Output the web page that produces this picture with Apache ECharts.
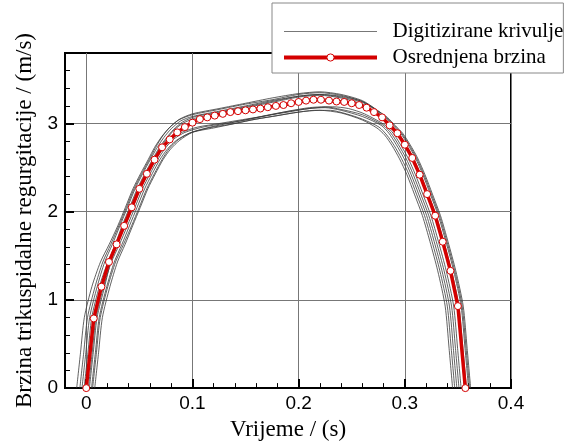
<!DOCTYPE html>
<html>
<head>
<meta charset="utf-8">
<script src="https://cdn.jsdelivr.net/npm/echarts@6/dist/echarts.min.js"></script>
<style>html,body{margin:0;padding:0;background:#fff;}#c{width:567px;height:446px;}</style>
</head>
<body>
<div id="c"></div>
<script>
// ---- data ----
const xMajor = [0, 0.1, 0.2, 0.3, 0.4];
const yMajor = [0, 1, 2, 3];

const meanT = [0,0.0071,0.0143,0.0214,0.0286,0.0357,0.0429,0.05,0.0571,0.0643,0.0714,0.0786,0.0857,0.0929,0.1,0.107,0.114,0.121,0.1286,0.1357,0.1429,0.15,0.157,0.164,0.171,0.1786,0.1857,0.1929,0.2,0.207,0.214,0.221,0.2286,0.2357,0.2429,0.25,0.257,0.264,0.271,0.2786,0.2857,0.293,0.3,0.307,0.314,0.321,0.3286,0.3357,0.343,0.35,0.357];
const meanV = [0,0.79,1.15,1.43,1.63,1.84,2.05,2.26,2.43,2.59,2.73,2.82,2.90,2.96,3.01,3.05,3.07,3.09,3.11,3.13,3.14,3.15,3.16,3.17,3.185,3.20,3.21,3.23,3.245,3.26,3.27,3.27,3.26,3.25,3.245,3.23,3.21,3.18,3.13,3.07,2.98,2.89,2.76,2.61,2.42,2.2,1.955,1.66,1.33,0.93,0];

const curveU1 = [[-0.009,0],[-0.0054,0.4],[-0.0018,0.8],[0.0053,1.15],[0.0134,1.43],[0.0216,1.63],[0.0297,1.84],[0.0369,2.05],[0.044,2.26],[0.0511,2.43],[0.0583,2.59],[0.0644,2.73],[0.071,2.85],[0.078,2.95],[0.087,3.04],[0.1,3.1],[0.125,3.16],[0.15,3.22],[0.175,3.27],[0.2,3.33],[0.22,3.35],[0.24,3.32],[0.26,3.25],[0.272,3.16],[0.2796,3.07],[0.2867,2.98],[0.294,2.89],[0.301,2.76],[0.308,2.61],[0.315,2.42],[0.322,2.2],[0.3296,1.955],[0.3367,1.66],[0.344,1.33],[0.351,0.93],[0.3547,0.45],[0.358,0]];
const curveU2 = [[-0.004,0],[-0.0004,0.4],[0.0032,0.8],[0.0103,1.15],[0.0174,1.43],[0.0246,1.63],[0.0317,1.84],[0.0389,2.05],[0.046,2.26],[0.0531,2.43],[0.0603,2.59],[0.0664,2.72],[0.073,2.84],[0.08,2.94],[0.089,3.03],[0.1,3.08],[0.125,3.14],[0.15,3.2],[0.175,3.26],[0.2,3.31],[0.22,3.33],[0.24,3.31],[0.26,3.25],[0.274,3.15],[0.2826,3.07],[0.2897,2.98],[0.297,2.89],[0.304,2.76],[0.311,2.61],[0.318,2.42],[0.325,2.2],[0.3326,1.955],[0.3397,1.66],[0.347,1.33],[0.354,0.93],[0.3577,0.45],[0.361,0]];
const curveU3 = [[0.0,0],[0.0036,0.4],[0.0072,0.8],[0.0143,1.15],[0.0207,1.43],[0.0273,1.63],[0.0337,1.84],[0.0409,2.05],[0.048,2.26],[0.0551,2.43],[0.0623,2.59],[0.0684,2.72],[0.075,2.83],[0.082,2.93],[0.091,3.02],[0.103,3.08],[0.125,3.13],[0.15,3.19],[0.175,3.25],[0.2,3.31],[0.22,3.33],[0.24,3.3],[0.26,3.24],[0.275,3.14],[0.2836,3.07],[0.2907,2.98],[0.298,2.89],[0.305,2.76],[0.312,2.61],[0.319,2.42],[0.326,2.2],[0.3336,1.955],[0.3407,1.66],[0.348,1.33],[0.355,0.93],[0.3587,0.45],[0.362,0]];
const curveU4 = [[0.003,0],[0.0066,0.4],[0.0102,0.8],[0.0173,1.15],[0.023,1.43],[0.0289,1.63],[0.0347,1.84],[0.0419,2.05],[0.049,2.26],[0.0561,2.43],[0.0633,2.59],[0.0694,2.72],[0.076,2.83],[0.083,2.93],[0.092,3.01],[0.105,3.07],[0.125,3.12],[0.15,3.18],[0.175,3.24],[0.2,3.3],[0.22,3.32],[0.24,3.29],[0.26,3.22],[0.271,3.14],[0.2786,3.07],[0.2857,2.98],[0.293,2.89],[0.3,2.76],[0.307,2.61],[0.314,2.42],[0.321,2.2],[0.3286,1.955],[0.3357,1.66],[0.343,1.33],[0.35,0.93],[0.3537,0.45],[0.356,0]];
const curveU5 = [[-0.006,0],[-0.0024,0.4],[0.0012,0.8],[0.0083,1.15],[0.0156,1.43],[0.0231,1.63],[0.0307,1.84],[0.0379,2.05],[0.045,2.26],[0.0521,2.43],[0.0593,2.59],[0.0654,2.73],[0.072,2.86],[0.079,2.96],[0.088,3.05],[0.1,3.11],[0.125,3.17],[0.15,3.23],[0.175,3.29],[0.2,3.34],[0.22,3.36],[0.24,3.33],[0.26,3.26],[0.273,3.16],[0.2816,3.07],[0.2887,2.98],[0.296,2.89],[0.303,2.76],[0.31,2.61],[0.317,2.42],[0.324,2.2],[0.3316,1.955],[0.3387,1.66],[0.346,1.33],[0.353,0.93],[0.3567,0.45],[0.36,0]];
const curveL1 = [[0.008,0],[0.0116,0.4],[0.0152,0.8],[0.0223,1.15],[0.0294,1.43],[0.0366,1.63],[0.0437,1.84],[0.0509,2.05],[0.058,2.26],[0.0651,2.43],[0.0723,2.59],[0.0794,2.71],[0.088,2.81],[0.1,2.9],[0.12,2.95],[0.14,3.0],[0.16,3.05],[0.18,3.09],[0.2,3.13],[0.22,3.15],[0.24,3.12],[0.26,3.04],[0.2737,2.95],[0.281,2.87],[0.288,2.75],[0.295,2.6],[0.302,2.42],[0.309,2.2],[0.3166,1.955],[0.3237,1.66],[0.331,1.33],[0.338,0.93],[0.3417,0.45],[0.345,0]];
const curveL2 = [[0.002,0],[0.0056,0.4],[0.0092,0.8],[0.0163,1.15],[0.0237,1.43],[0.0313,1.63],[0.0387,1.84],[0.0459,2.05],[0.053,2.26],[0.0601,2.43],[0.0673,2.59],[0.0744,2.72],[0.082,2.82],[0.093,2.9],[0.11,2.96],[0.13,3.0],[0.15,3.04],[0.17,3.09],[0.19,3.13],[0.21,3.17],[0.225,3.18],[0.24,3.15],[0.26,3.08],[0.2777,2.98],[0.285,2.89],[0.292,2.76],[0.299,2.61],[0.306,2.42],[0.313,2.2],[0.3206,1.955],[0.3277,1.66],[0.335,1.33],[0.342,0.93],[0.3457,0.45],[0.349,0]];
const curveL3 = [[-0.002,0],[0.0016,0.4],[0.0052,0.8],[0.0123,1.15],[0.0204,1.43],[0.0286,1.63],[0.0367,1.84],[0.0439,2.05],[0.051,2.26],[0.0581,2.43],[0.0653,2.59],[0.0724,2.72],[0.08,2.82],[0.09,2.9],[0.105,2.96],[0.125,3.0],[0.15,3.05],[0.17,3.09],[0.19,3.14],[0.21,3.18],[0.225,3.19],[0.24,3.16],[0.26,3.1],[0.2797,2.98],[0.287,2.89],[0.294,2.76],[0.301,2.61],[0.308,2.42],[0.315,2.2],[0.3226,1.955],[0.3297,1.66],[0.337,1.33],[0.344,0.93],[0.3477,0.45],[0.351,0]];
const curveL4 = [[0.005,0],[0.0086,0.4],[0.0122,0.8],[0.0193,1.15],[0.0264,1.43],[0.0336,1.63],[0.0407,1.84],[0.0479,2.05],[0.055,2.26],[0.0621,2.43],[0.0693,2.59],[0.0764,2.71],[0.085,2.81],[0.097,2.89],[0.115,2.95],[0.135,2.99],[0.155,3.04],[0.175,3.08],[0.195,3.12],[0.215,3.15],[0.23,3.15],[0.245,3.11],[0.26,3.05],[0.2757,2.96],[0.283,2.87],[0.29,2.75],[0.297,2.6],[0.304,2.42],[0.311,2.2],[0.3186,1.955],[0.3257,1.66],[0.333,1.33],[0.34,0.93],[0.3437,0.45],[0.347,0]];
const curveL5 = [[0.006,0],[0.0096,0.4],[0.0132,0.8],[0.0203,1.15],[0.0276,1.43],[0.0351,1.63],[0.0427,1.84],[0.0499,2.05],[0.057,2.26],[0.0641,2.43],[0.0713,2.59],[0.0784,2.72],[0.087,2.82],[0.099,2.9],[0.117,2.96],[0.137,3.01],[0.157,3.06],[0.177,3.11],[0.197,3.15],[0.217,3.18],[0.232,3.19],[0.247,3.17],[0.262,3.11],[0.2817,2.98],[0.289,2.89],[0.296,2.76],[0.303,2.61],[0.31,2.42],[0.317,2.2],[0.3246,1.955],[0.3317,1.66],[0.339,1.33],[0.346,0.93],[0.3497,0.45],[0.353,0]];

const grayCurves = [curveU1, curveU2, curveU3, curveU4, curveU5, curveL1, curveL2, curveL3, curveL4, curveL5];
const nameGray = 'Digitizirane krivulje';
const nameMean = 'Osrednjena brzina';

// ---- chart ----
const chart = echarts.init(document.getElementById('c'), null, {renderer: 'canvas'});
const serif = 'Liberation Serif, Times New Roman, serif';
const sans = 'Liberation Sans, Arial, sans-serif';
const red = '#d40000';

const series = grayCurves.map(c => ({
  name: nameGray, type: 'line', data: c, showSymbol: false, symbol: 'none',
  smooth: 0.25, lineStyle: {color: '#3a3a3a', width: 0.8}, itemStyle: {color: '#3a3a3a'},
  z: 2, silent: true
}));
series.push({
  name: nameMean, type: 'line', data: meanT.map((t, i) => [t, meanV[i]]),
  symbol: 'circle', symbolSize: 7, showSymbol: true,
  lineStyle: {color: red, width: 3.5},
  itemStyle: {color: '#ffffff', borderColor: red, borderWidth: 1},
  z: 5, silent: true
});

chart.setOption({
  animation: false,
  backgroundColor: '#fff',
  grid: {left: 65, right: 56, top: 53, bottom: 48, show: true, borderColor: '#000', borderWidth: 2, backgroundColor: 'transparent'},
  legend: {
    data: [
      {name: nameGray, itemStyle: {color: 'rgba(0,0,0,0)', borderWidth: 0, opacity: 0}, lineStyle: {color: '#777', width: 1}},
      {name: nameMean, itemStyle: {color: '#fff', borderColor: red, borderWidth: 1}, lineStyle: {color: red, width: 4}}
    ],
    left: 272, top: 3, orient: 'vertical',
    backgroundColor: '#fff', borderColor: '#888', borderWidth: 1,
    padding: [18, 0, 5, 10], itemGap: 5, itemWidth: 93, itemHeight: 9,
    formatter: n => '  ' + n,
    textStyle: {fontFamily: serif, fontSize: 21, color: '#000'},
    z: 10
  },
  xAxis: [
    {type: 'value', min: -0.02, max: 0.4, interval: 0.02, position: 'bottom',
     axisLine: {show: true, onZero: false, lineStyle: {color: '#000', width: 2}},
     axisTick: {inside: true, length: 5, lineStyle: {color: '#000', width: 1}},
     axisLabel: {show: false}, splitLine: {show: false}},
    {type: 'value', min: -0.02, max: 0.4, position: 'bottom',
     axisLine: {show: false, onZero: false},
     axisTick: {inside: true, length: 9, customValues: xMajor, lineStyle: {color: '#000', width: 2}},
     axisLabel: {customValues: xMajor, fontFamily: sans, fontSize: 19, color: '#000', margin: 6},
     splitLine: {show: true, customValues: xMajor, lineStyle: {color: '#777', width: 1}},
     name: 'Vrijeme / (s)', nameLocation: 'middle', nameGap: 22,
     nameTextStyle: {fontFamily: serif, fontSize: 23, color: '#000'}}
  ],
  yAxis: [
    {type: 'value', min: 0, max: 3.8, interval: 0.2, position: 'left',
     axisLine: {show: true, onZero: false, lineStyle: {color: '#000', width: 2}},
     axisTick: {inside: true, length: 5, lineStyle: {color: '#000', width: 1}},
     axisLabel: {show: false}, splitLine: {show: false}},
    {type: 'value', min: 0, max: 3.8, position: 'left',
     axisLine: {show: false, onZero: false},
     axisTick: {inside: true, length: 9, customValues: yMajor, lineStyle: {color: '#000', width: 2}},
     axisLabel: {customValues: yMajor, fontFamily: sans, fontSize: 19, color: '#000', margin: 7},
     splitLine: {show: true, customValues: yMajor, lineStyle: {color: '#777', width: 1}},
     name: 'Brzina trikuspidalne regurgitacije / (m/s)', nameLocation: 'middle', nameGap: 28,
     nameTextStyle: {fontFamily: serif, fontSize: 23, color: '#000'}}
  ],
  series: series
});
</script>
</body>
</html>
